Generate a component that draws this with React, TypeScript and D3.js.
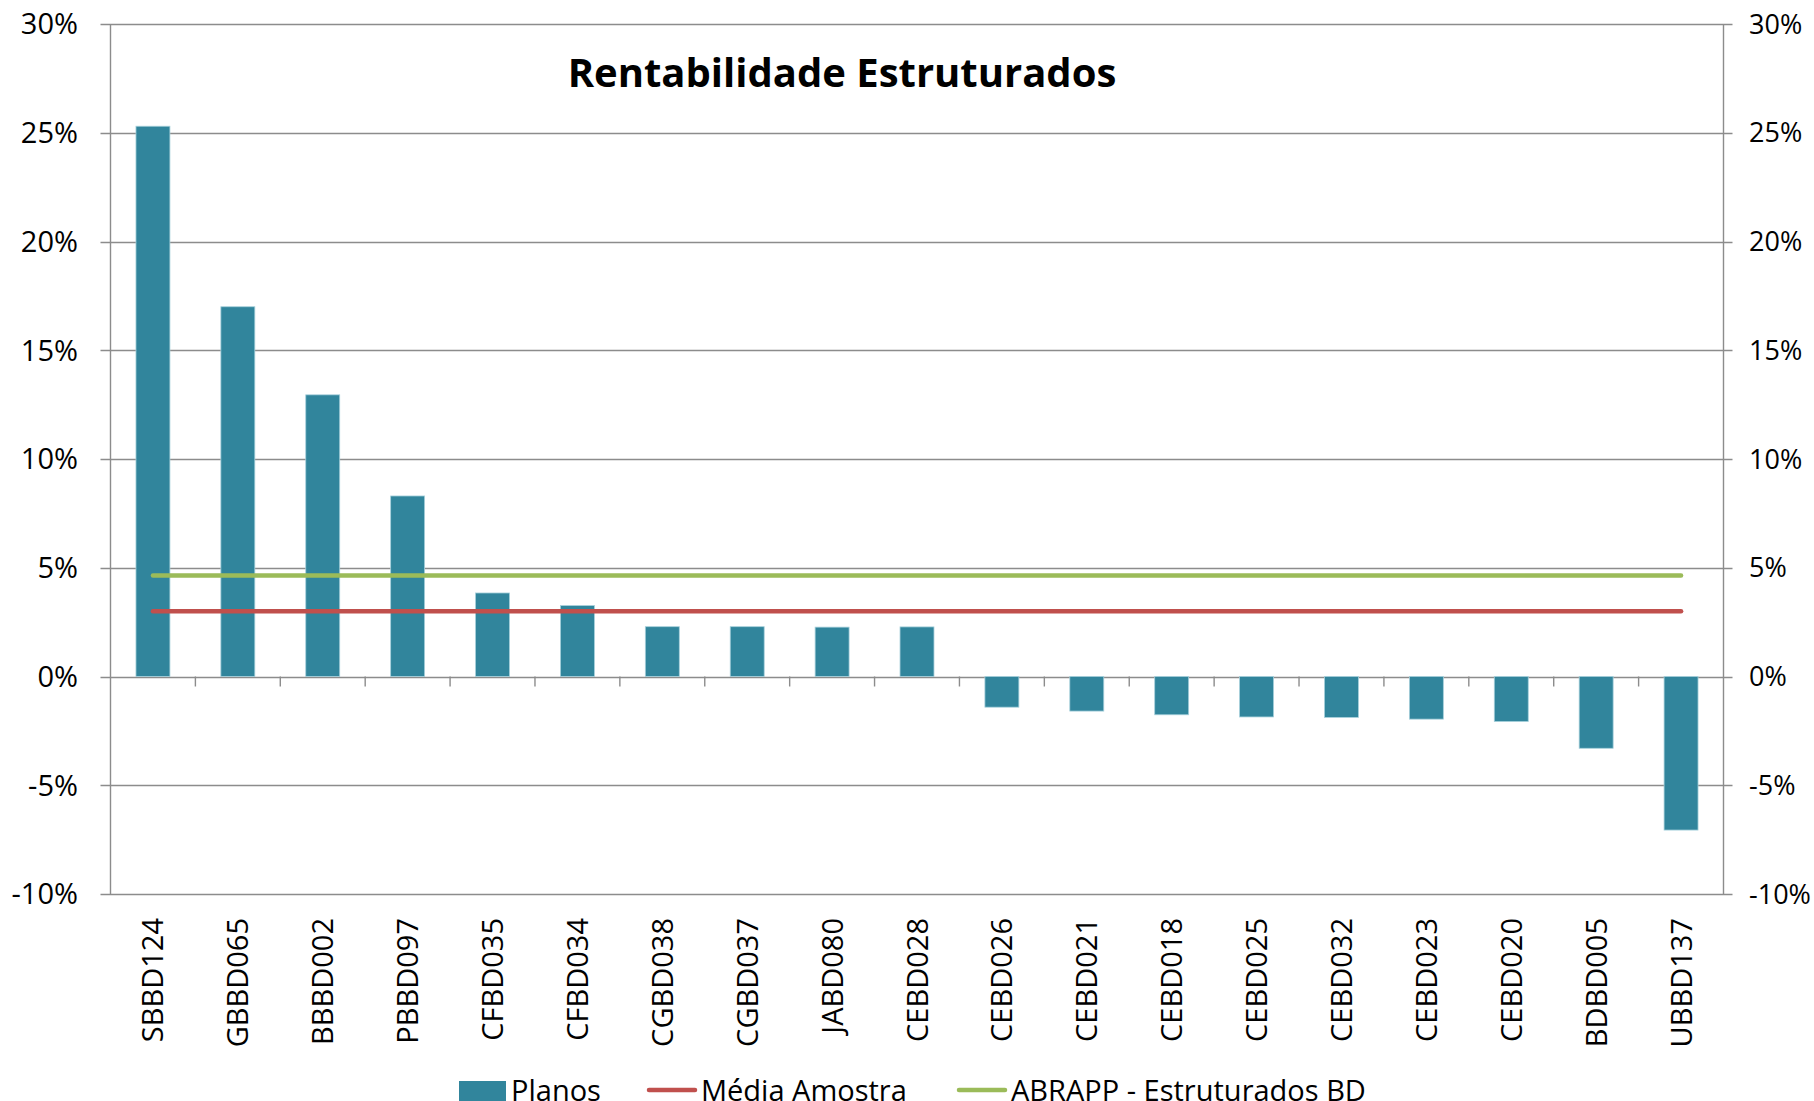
import React from "react";
import * as d3 from "d3";

const categories = [
  "SBBD124", "GBBD065", "BBBD002", "PBBD097", "CFBD035", "CFBD034", "CGBD038",
  "CGBD037", "JABD080", "CEBD028", "CEBD026", "CEBD021", "CEBD018", "CEBD025",
  "CEBD032", "CEBD023", "CEBD020", "BDBD005", "UBBD137",
];
const planos = [
  25.3, 17.0, 12.95, 8.3, 3.84, 3.26, 2.29, 2.29, 2.27, 2.28,
  -1.41, -1.59, -1.76, -1.86, -1.88, -1.96, -2.07, -3.3, -7.06,
];
const mediaAmostra = categories.map(() => 3.0);
const abrapp = categories.map(() => 4.64);
const yTicks = [-10, -5, 0, 5, 10, 15, 20, 25, 30];
const title = "Rentabilidade Estruturados";
const legendItems = [
  { label: "Planos", kind: "bar", color: "#31859C" },
  { label: "Média Amostra", kind: "line", color: "#C0504D" },
  { label: "ABRAPP - Estruturados BD", kind: "line", color: "#9BBB59" },
];

const W = 1814;
const H = 1101;
const left = 110.5;
const right = 1723.5;
const top = 24;
const bottom = 894;
const font = "'Open Sans', 'Noto Sans', sans-serif";
const gridColor = "#8c8c8c";

export default function App() {
  const x = d3.scaleBand<string>().domain(categories).range([left, right]).paddingInner(0).paddingOuter(0);
  const bw = x.bandwidth() * 0.4;
  const y = d3.scaleLinear().domain([-10, 30]).range([bottom, top]);
  const line = d3
    .line<number>()
    .x((_, i) => (x(categories[i]) as number) + x.bandwidth() / 2)
    .y((d) => y(d));

  const legendX = [459, 647, 957];

  return (
    <svg
      width={W}
      height={H}
      style={{ position: "absolute", left: 0, top: 0, background: "#fff" }}
      fontFamily={font}
    >
      <rect x={0} y={0} width={W} height={H} fill="#fff" />
      {/* gridlines */}
      {yTicks.map((t) => (
        <line
          key={"g" + t}
          x1={left - 10}
          x2={right + 9}
          y1={Math.round(y(t)) + 0.5}
          y2={Math.round(y(t)) + 0.5}
          stroke={gridColor}
          strokeWidth={1.4}
        />
      ))}
      {/* vertical axes */}
      <line x1={left} x2={left} y1={top} y2={bottom} stroke={gridColor} strokeWidth={1.4} />
      <line x1={right} x2={right} y1={top} y2={bottom} stroke={gridColor} strokeWidth={1.4} />
      {/* category ticks */}
      {categories.slice(1).map((c) => (
        <line
          key={"t" + c}
          x1={x(c) as number}
          x2={x(c) as number}
          y1={y(0)}
          y2={y(0) + 10}
          stroke={gridColor}
          strokeWidth={1.4}
        />
      ))}
      {/* bars */}
      {planos.map((v, i) => {
        const cx = (x(categories[i]) as number) + x.bandwidth() / 2;
        const y0 = y(0);
        const yv = y(v);
        return (
          <rect
            key={"b" + i}
            x={cx - bw / 2}
            y={Math.min(y0, yv)}
            width={bw}
            height={Math.abs(yv - y0)}
            fill="#31859C"
            stroke="#a6d0db"
            strokeWidth={0.8}
          />
        );
      })}
      {/* lines */}
      <path d={line(mediaAmostra) || ""} fill="none" stroke="#C0504D" strokeWidth={4.5} strokeLinecap="round" />
      <path d={line(abrapp) || ""} fill="none" stroke="#9BBB59" strokeWidth={4.5} strokeLinecap="round" />
      {/* y labels */}
      {yTicks.map((t) => (
        <text
          key={"l" + t}
          x={78}
          y={y(t)}
          dy="0.36em"
          textAnchor="end"
          fontSize={29}
          fill="#000"
        >
          {t + "%"}
        </text>
      ))}
      {yTicks.map((t) => (
        <text
          key={"r" + t}
          x={1749}
          y={y(t)}
          dy="0.36em"
          textAnchor="start"
          fontSize={27}
          fill="#000"
        >
          {t + "%"}
        </text>
      ))}
      {/* x labels */}
      {categories.map((c) => {
        const cx = (x(c) as number) + x.bandwidth() / 2 + 10.5;
        return (
          <text
            key={"x" + c}
            transform={`translate(${cx},918) rotate(-90)`}
            textAnchor="end"
            fontSize={29}
            fill="#000"
          >
            {c}
          </text>
        );
      })}
      {/* title */}
      <text x={842} y={87} textAnchor="middle" fontSize={40} fontWeight="bold" fill="#000">
        {title}
      </text>
      {/* legend */}
      {legendItems.map((it, i) => {
        const lx = legendX[i];
        return (
          <g key={"lg" + i}>
            {it.kind === "bar" ? (
              <rect x={lx} y={1081} width={47} height={22} fill={it.color} />
            ) : (
              <line x1={lx + 2} x2={lx + 48} y1={1090} y2={1090} stroke={it.color} strokeWidth={4.5} strokeLinecap="round" />
            )}
            <text x={lx + (it.kind === "bar" ? 52 : 54)} y={1101} fontSize={29} fill="#000">
              {it.label}
            </text>
          </g>
        );
      })}
    </svg>
  );
}
